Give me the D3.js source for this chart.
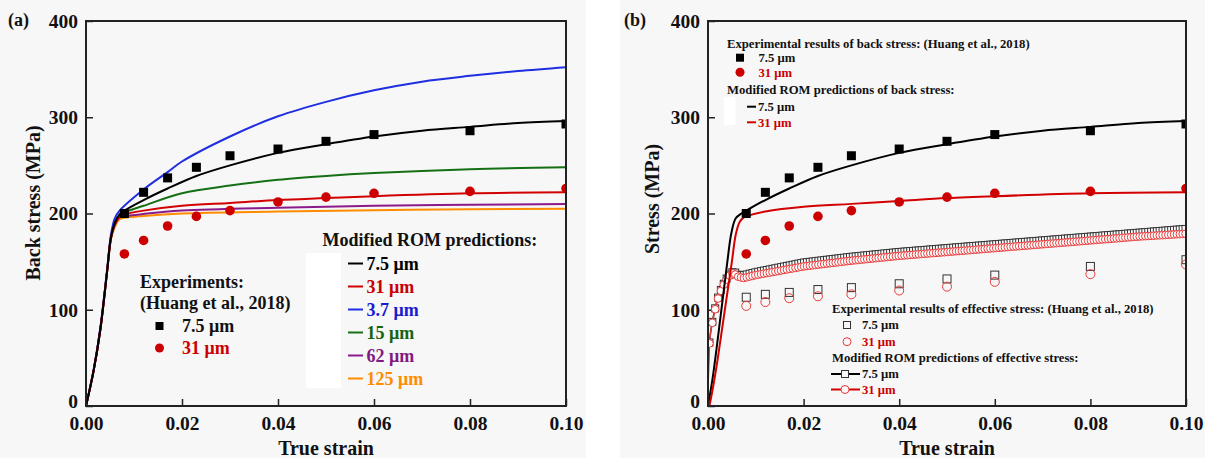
<!DOCTYPE html>
<html>
<head>
<meta charset="utf-8">
<script src="https://cdn.jsdelivr.net/npm/d3@7"></script>
<style>
  body { margin: 0; background: #fff; }
  text { font-family: "Liberation Serif", "Times New Roman", serif; font-weight: bold; }
</style>
</head>
<body>
<div id="chart"></div>
<script>
// ---- data ----
const xTicks = [0, 0.02, 0.04, 0.06, 0.08, 0.10];
const yTicks = [0, 100, 200, 300, 400];

// experiments (Huang et al., 2018)
const expStrain = [0.008, 0.012, 0.017, 0.023, 0.030, 0.040, 0.050, 0.060, 0.080, 0.100];
const expBack75 = [200, 222, 237, 248, 260, 267, 275, 282, 286, 293];
const expBack31 = [158, 172, 187, 197, 203, 212, 217, 221, 223, 226];
const expEff75  = [113, 116, 118, 121, 123, 127, 132, 136, 145, 152];
const expEff31  = [104, 108, 112, 114, 116, 120, 124, 129, 137, 147];

// modified ROM predictions of back stress, panel (a)  [strain, MPa]
const rom75 = [[0,0],[0.0016,37],[0.003,80],[0.0044,140],[0.0052,175],[0.006,190],[0.007,199],[0.008,203],[0.012,214],[0.017,226],[0.023,239],[0.03,250],[0.04,263],[0.05,272],[0.06,280],[0.07,286],[0.08,290],[0.09,294],[0.1,296]];
const rom31 = [[0,0],[0.0016,37],[0.003,80],[0.0044,140],[0.0052,175],[0.006,189],[0.007,197],[0.008,199],[0.012,203],[0.02,208],[0.03,211],[0.04,214],[0.05,216],[0.06,218],[0.08,221],[0.1,222]];
const rom37 = [[0,0],[0.0016,38],[0.003,82],[0.0044,142],[0.0052,178],[0.006,195],[0.007,203],[0.012,225],[0.017,243],[0.02,254],[0.03,280],[0.04,301],[0.05,316],[0.06,328],[0.07,337],[0.08,343],[0.09,348],[0.1,352]];
const rom15 = [[0,0],[0.0016,37],[0.003,80],[0.0044,140],[0.0052,175],[0.006,189],[0.007,198],[0.008,201],[0.012,208],[0.02,221],[0.03,229],[0.04,235],[0.05,239],[0.06,242],[0.08,246],[0.1,248]];
const rom62 = [[0,0],[0.0016,37],[0.003,80],[0.0044,140],[0.0052,174],[0.006,188],[0.007,196],[0.008,197],[0.012,199.5],[0.02,203],[0.04,206],[0.06,208],[0.08,209],[0.1,210]];
const rom125 = [[0,0],[0.0016,37],[0.003,80],[0.0044,140],[0.0052,173],[0.006,186],[0.007,194],[0.008,195.5],[0.012,197.5],[0.02,200],[0.04,202],[0.06,203.5],[0.08,204.5],[0.1,205]];

// panel (b): back stress and effective stress predictions
const back75 = [[0,0],[0.001,30],[0.002,68],[0.003,108],[0.004,148],[0.0049,180],[0.0058,195],[0.007,200],[0.008,203],[0.012,214],[0.017,226],[0.023,239],[0.03,250],[0.04,263],[0.05,272],[0.06,280],[0.07,286],[0.08,290],[0.09,294],[0.1,296]];
const back31 = [[0.0003,0],[0.001,18],[0.002,48],[0.003,82],[0.004,116],[0.005,150],[0.0058,178],[0.0066,191],[0.0075,196],[0.008,197],[0.012,202],[0.02,207],[0.03,210],[0.04,213],[0.05,216],[0.06,218],[0.08,221],[0.1,222]];
const eff75 = [[0,0],[0.0003,66],[0.0008,85],[0.0013,97],[0.0017,106],[0.0023,116],[0.003,124],[0.0037,131],[0.0044,136],[0.005,139],[0.0056,139],[0.0064,136],[0.0075,136],[0.01,139],[0.02,149],[0.03,155],[0.04,160],[0.05,164],[0.06,168],[0.07,172],[0.08,176],[0.09,180],[0.1,184]];
const eff31 = [[0,0],[0.0003,65],[0.0008,84],[0.0013,96],[0.0017,105],[0.0023,115],[0.003,123],[0.0037,130],[0.0044,135],[0.005,138],[0.0056,137],[0.0064,134],[0.0075,133],[0.01,136],[0.02,145],[0.03,151],[0.04,156],[0.05,160],[0.06,164],[0.07,168],[0.08,172],[0.09,176],[0.1,179]];

const romSeries = [
  {name: "7.5 μm", data: rom75,  color: "#000000", text: "#000000"},
  {name: "31 μm",  data: rom31,  color: "#d20000", text: "#c80000"},
  {name: "3.7 μm", data: rom37,  color: "#1f2ee0", text: "#1a1ad0"},
  {name: "15 μm",  data: rom15,  color: "#157015", text: "#146414"},
  {name: "62 μm",  data: rom62,  color: "#8b1a8b", text: "#821a82"},
  {name: "125 μm", data: rom125, color: "#ff8c00", text: "#ff8c00"}
];

const RED = "#cc0000", OPENRED = "#e83a3a";

// ---- layout ----
const W = 1205, H = 458;
const svg = d3.select("#chart").append("svg").attr("width", W).attr("height", H);
svg.append("rect").attr("x", 0).attr("y", 0).attr("width", 586).attr("height", H).attr("fill", "#f7f7f7");
svg.append("rect").attr("x", 620).attr("y", 0).attr("width", W - 620).attr("height", H).attr("fill", "#f7f7f7");

function makePanel(id, left, right, top, bottom, ytitle, ytitleX, ytitleY, tag, tagX) {
  const x = d3.scaleLinear().domain([0, 0.1]).range([left, right]);
  const y = d3.scaleLinear().domain([0, 400]).range([bottom, top]);

  svg.append("clipPath").attr("id", id).append("rect")
    .attr("x", left).attr("y", top).attr("width", right - left).attr("height", bottom - top);

  const gx = svg.append("g").attr("transform", "translate(0," + bottom + ")")
    .call(d3.axisBottom(x).tickValues(xTicks).tickFormat(d3.format(".2f"))
      .tickSizeInner(-7).tickSizeOuter(0).tickPadding(10.5));
  const gy = svg.append("g").attr("transform", "translate(" + left + ",0)")
    .call(d3.axisLeft(y).tickValues(yTicks).tickFormat(d3.format("d"))
      .tickSizeInner(-7).tickSizeOuter(0).tickPadding(8));
  [gx, gy].forEach(g => {
    g.select(".domain").remove();
    g.selectAll("line").attr("stroke", "#222").attr("stroke-width", 1.5);
    g.selectAll("text").attr("font-size", 19.5).attr("fill", "#111")
      .attr("font-family", "Liberation Serif").attr("font-weight", "bold");
  });
  // lift the lowest y label a touch so it clears the x labels
  gy.selectAll(".tick").filter(d => d === 0).select("text").attr("dy", "0.1em");

  svg.append("text").attr("x", (left + right) / 2).attr("y", 448).attr("dy", "0.35em")
    .attr("text-anchor", "middle").attr("font-size", 20).attr("fill", "#111").text("True strain");
  svg.append("text").attr("transform", "translate(" + ytitleX + "," + ytitleY + ") rotate(-90)")
    .attr("dy", "0.35em").attr("text-anchor", "middle").attr("font-size", 20).attr("fill", "#111").text(ytitle);
  svg.append("text").attr("x", tagX).attr("y", 20).attr("dy", "0.35em")
    .attr("font-size", 18).attr("fill", "#111").text(tag);

  const plot = svg.append("g").attr("clip-path", "url(#" + id + ")");
  return {x, y, plot, left, right, top, bottom};
}

function frame(p) {
  svg.append("rect").attr("x", p.left).attr("y", p.top)
    .attr("width", p.right - p.left).attr("height", p.bottom - p.top)
    .attr("fill", "none").attr("stroke", "#222").attr("stroke-width", 2);
}

function curve(p, data, color, width) {
  const line = d3.line().x(d => p.x(d[0])).y(d => p.y(d[1])).curve(d3.curveCatmullRom.alpha(0.5));
  p.plot.append("path").datum(data).attr("d", line)
    .attr("fill", "none").attr("stroke", color).attr("stroke-width", width);
}

function squares(g, pts, size, fill, stroke) {
  g.selectAll(null).data(pts).enter().append("rect")
    .attr("x", d => d[0] - size / 2).attr("y", d => d[1] - size / 2)
    .attr("width", size).attr("height", size)
    .attr("fill", fill).attr("stroke", stroke).attr("stroke-width", stroke === "none" ? 0 : 1);
}
function circles(g, pts, r, fill, stroke) {
  g.selectAll(null).data(pts).enter().append("circle")
    .attr("cx", d => d[0]).attr("cy", d => d[1]).attr("r", r)
    .attr("fill", fill).attr("stroke", stroke).attr("stroke-width", stroke === "none" ? 0 : 1);
}
function label(x, y, txt, size, color, anchor) {
  svg.append("text").attr("x", x).attr("y", y).attr("dy", "0.35em")
    .attr("font-size", size).attr("fill", color || "#111")
    .attr("text-anchor", anchor || "start").text(txt);
}

// ---- panel (a) ----
const A = makePanel("clipA", 86, 566, 21, 406, "Back stress (MPa)", 33, 203, "(a)", 8);
romSeries.slice().reverse().forEach(s => curve(A, s.data, s.color, 2));
squares(A.plot, expStrain.map((s, i) => [A.x(s), A.y(expBack75[i])]), 9, "#000", "none");
circles(A.plot, expStrain.map((s, i) => [A.x(s), A.y(expBack31[i])]), 4.8, RED, "none");
frame(A);

label(140, 282, "Experiments:", 18);
label(140, 303, "(Huang et al., 2018)", 18);
squares(svg, [[159.5, 326]], 8, "#000", "none");
label(182, 326, "7.5 μm", 18);
circles(svg, [[159.5, 348]], 4.5, RED, "none");
label(182, 348, "31 μm", 18, RED);

label(322.5, 240, "Modified ROM predictions:", 18);
svg.append("rect").attr("x", 306).attr("y", 253).attr("width", 35).attr("height", 135).attr("fill", "#fff");
romSeries.forEach((s, i) => {
  const yy = 263.5 + i * 23;
  svg.append("line").attr("x1", 348).attr("x2", 363).attr("y1", yy).attr("y2", yy)
    .attr("stroke", s.color).attr("stroke-width", 2);
  label(366.5, yy, s.name, 18, s.text);
});

// ---- panel (b) ----
const B = makePanel("clipB", 708, 1186, 21, 406, "Stress (MPa)", 652, 199, "(b)", 624);

// effective stress predictions: line with dense open symbols
const markStep = 0.0006;
const chain = d3.range(0.0003, 0.1002, markStep);
[[eff75, "#333"], [eff31, OPENRED]].forEach(([data, col], k) => {
  curve(B, data, col, 1.5);
  const f = d3.scaleLinear().domain(data.map(d => d[0])).range(data.map(d => d[1]));
  const pts = chain.map(s => [B.x(s), B.y(f(s))]);
  if (k === 0) squares(B.plot, pts, 7, "#fff", "#333");
  else circles(B.plot, pts, 3.8, "#fff", OPENRED);
});

curve(B, back75, "#000", 2);
curve(B, back31, "#d20000", 2);

squares(B.plot, expStrain.map((s, i) => [B.x(s), B.y(expBack75[i])]), 9, "#000", "none");
circles(B.plot, expStrain.map((s, i) => [B.x(s), B.y(expBack31[i])]), 4.8, RED, "none");
squares(B.plot, expStrain.map((s, i) => [B.x(s), B.y(expEff75[i])]), 8, "none", "#333");
circles(B.plot, expStrain.map((s, i) => [B.x(s), B.y(expEff31[i])]), 4.5, "none", OPENRED);
frame(B);

// upper legend
const fs = 12.7;
label(727, 43.5, "Experimental results of back stress: (Huang et al., 2018)", fs);
squares(svg, [[740, 57.7]], 8, "#000", "none");
label(758.5, 57.7, "7.5 μm", fs);
circles(svg, [[740, 72.3]], 4.5, RED, "none");
label(758.5, 72.3, "31 μm", fs, RED);
label(727, 90, "Modified ROM predictions of back stress:", fs);
svg.append("rect").attr("x", 724).attr("y", 97).attr("width", 11.5).attr("height", 28).attr("fill", "#fff");
[["7.5 μm", "#000", "#111", 106.7], ["31 μm", "#d20000", RED, 122.3]].forEach(([t, c, tc, yy]) => {
  svg.append("line").attr("x1", 747).attr("x2", 756).attr("y1", yy).attr("y2", yy)
    .attr("stroke", c).attr("stroke-width", 2);
  label(758, yy, t, fs, tc);
});

// lower legend
label(832, 308.3, "Experimental results of effective stress: (Huang et al., 2018)", fs);
squares(svg, [[847, 325]], 7, "none", "#333");
label(862, 325, "7.5 μm", fs);
circles(svg, [[847, 341.7]], 4, "none", OPENRED);
label(862, 341.7, "31 μm", fs, RED);
label(832, 358, "Modified ROM predictions of effective stress:", fs);
[["7.5 μm", "#000", "#111", 374], ["31 μm", "#d20000", RED, 389.5]].forEach(([t, c, tc, yy], k) => {
  svg.append("line").attr("x1", 831).attr("x2", 860).attr("y1", yy).attr("y2", yy)
    .attr("stroke", c).attr("stroke-width", 2);
  if (k === 0) squares(svg, [[845, yy]], 7, "#f7f7f7", "#333");
  else circles(svg, [[845, yy]], 4, "#f7f7f7", OPENRED);
  label(862, yy, t, fs, tc);
});
</script>
</body>
</html>
